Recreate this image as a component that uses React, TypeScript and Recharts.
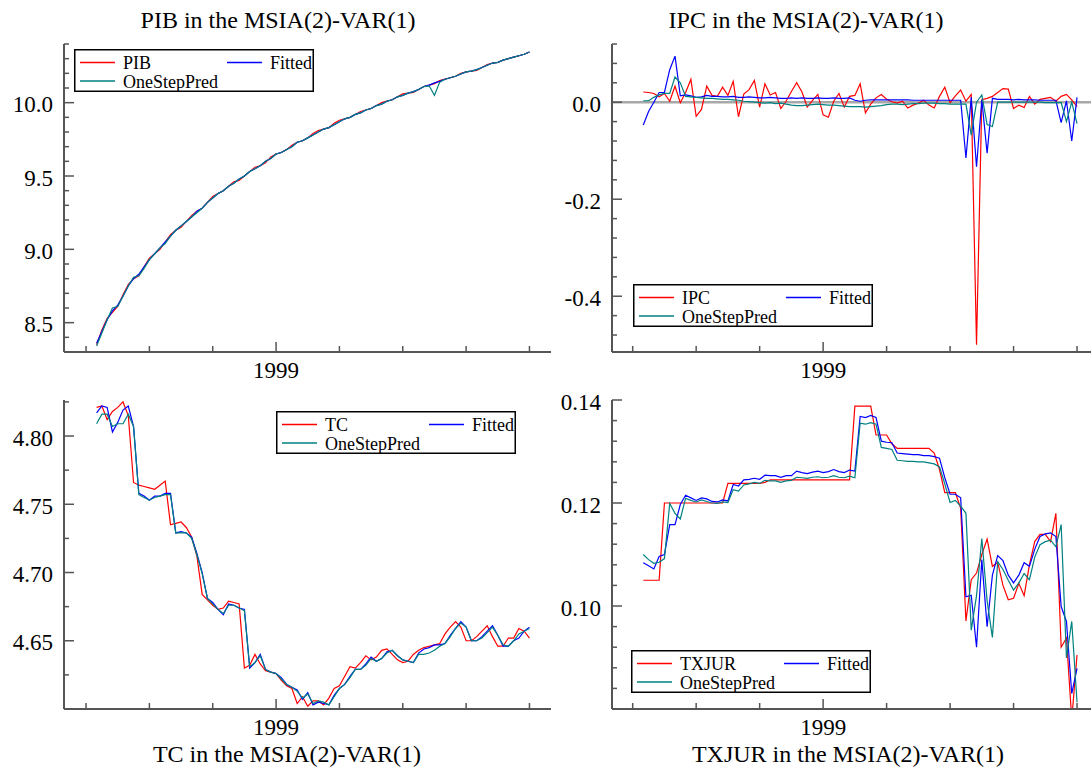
import React from "react";
import { Legend, Line, LineChart, ReferenceLine, XAxis, YAxis } from "recharts";

const FONT = '"Liberation Serif", "Times New Roman", Times, serif';
const RED = "#ff0000";
const BLUE = "#0000ff";
const TEAL = "#008080";
const AXIS = "#555555";

// monthly sample 1996(3) - 2003(1)
const firstYear = 1996;
const firstMonth = 3;
const obsCount = 83;
const dates = Array.from({ length: obsCount }, (_, i) => firstYear + (firstMonth - 1 + i) / 12);

const yearTicks = [1996, 1997, 1998, 1999, 2000, 2001, 2002, 2003];
const labelledYear = 1999;

// PIB
const pibActual = [
  8.35, 8.45, 8.53, 8.57, 8.61, 8.69, 8.76, 8.80, 8.82, 8.88,
  8.94, 8.97, 9.00, 9.05, 9.10, 9.13, 9.15, 9.19, 9.23, 9.26,
  9.28, 9.32, 9.36, 9.38, 9.40, 9.43, 9.46, 9.47, 9.50, 9.53,
  9.56, 9.57, 9.59, 9.63, 9.65, 9.66, 9.68, 9.71, 9.73, 9.74,
  9.76, 9.79, 9.81, 9.82, 9.83, 9.86, 9.88, 9.89, 9.90, 9.92,
  9.94, 9.95, 9.96, 9.98, 10.00, 10.01, 10.02, 10.04, 10.06, 10.065,
  10.07, 10.09, 10.11, 10.12, 10.13, 10.15, 10.16, 10.17, 10.18, 10.20,
  10.21, 10.215, 10.22, 10.24, 10.26, 10.27, 10.275, 10.29, 10.30, 10.31,
  10.32, 10.33, 10.345,
];
const pibFitted = [
  8.36, 8.44, 8.52, 8.58, 8.62, 8.68, 8.75, 8.80, 8.83, 8.88,
  8.93, 8.97, 9.01, 9.05, 9.09, 9.13, 9.16, 9.19, 9.22, 9.26,
  9.28, 9.32, 9.35, 9.38, 9.40, 9.43, 9.45, 9.48, 9.50, 9.53,
  9.55, 9.57, 9.60, 9.62, 9.65, 9.66, 9.68, 9.70, 9.73, 9.74,
  9.76, 9.78, 9.80, 9.82, 9.83, 9.85, 9.87, 9.89, 9.90, 9.92,
  9.93, 9.95, 9.96, 9.98, 9.99, 10.01, 10.02, 10.04, 10.05, 10.065,
  10.075, 10.09, 10.11, 10.12, 10.135, 10.145, 10.16, 10.17, 10.18, 10.195,
  10.21, 10.215, 10.225, 10.24, 10.255, 10.27, 10.275, 10.29, 10.30, 10.31,
  10.32, 10.33, 10.345,
];
const pibPred = [
  8.34, 8.43, 8.52, 8.60, 8.61, 8.68, 8.75, 8.81, 8.82, 8.87,
  8.93, 8.97, 9.01, 9.04, 9.09, 9.13, 9.16, 9.19, 9.22, 9.25,
  9.28, 9.32, 9.35, 9.38, 9.40, 9.43, 9.45, 9.48, 9.50, 9.53,
  9.55, 9.57, 9.60, 9.62, 9.65, 9.66, 9.68, 9.70, 9.73, 9.74,
  9.76, 9.78, 9.80, 9.82, 9.83, 9.85, 9.87, 9.89, 9.90, 9.92,
  9.93, 9.95, 9.96, 9.98, 9.99, 10.01, 10.02, 10.04, 10.05, 10.065,
  10.075, 10.09, 10.11, 10.115, 10.05, 10.14, 10.16, 10.17, 10.18, 10.195,
  10.21, 10.215, 10.225, 10.24, 10.255, 10.27, 10.275, 10.29, 10.30, 10.31,
  10.32, 10.33, 10.345,
];

// IPC
const ipcActual = [
  0.021, 0.020, 0.018, 0.011, 0.018, 0.002, 0.033, -0.001, 0.020, 0.047,
  -0.029, -0.015, 0.033, 0.014, 0.012, 0.031, 0.014, 0.043, -0.030, 0.017,
  0.026, 0.045, -0.010, 0.038, 0.015, 0.020, -0.013, 0.002, 0.022, 0.040,
  0.021, -0.010, 0.004, 0.016, -0.026, -0.031, 0.002, 0.018, -0.010, 0.012,
  0.014, 0.038, -0.022, -0.004, 0.009, 0.016, 0.006, 0.001, -0.002, 0.002,
  -0.012, -0.006, -0.002, 0.004, -0.006, -0.012, 0.012, 0.031, -0.001, 0.013,
  0.025, 0.002, 0.016, -0.500, 0.005, 0.008, 0.012, 0.020, 0.028, 0.027,
  -0.013, -0.006, -0.011, 0.012, -0.004, 0.006, 0.008, 0.010, 0.002, 0.012,
  0.016, 0.005, -0.009,
];
const ipcFitted = [
  -0.047, -0.019, 0.000, 0.020, 0.020, 0.067, 0.095, 0.013, 0.015, 0.013,
  0.010, 0.011, 0.014, 0.012, 0.012, 0.011, 0.011, 0.012, 0.010, 0.010,
  0.011, 0.010, 0.009, 0.009, 0.010, 0.009, 0.008, 0.008, 0.009, 0.008,
  0.009, 0.008, 0.008, 0.009, 0.008, 0.008, 0.009, 0.008, 0.008, 0.009,
  0.004, 0.002, 0.004, 0.005, 0.005, 0.005, 0.005, 0.005, 0.005, 0.005,
  0.005, 0.004, 0.004, 0.004, 0.004, 0.004, 0.004, 0.004, 0.004, 0.004,
  0.004, -0.115, 0.010, -0.133, 0.005, -0.105, 0.008, 0.006, 0.006, 0.006,
  0.005, 0.006, 0.005, 0.005, 0.005, 0.004, 0.004, 0.004, 0.004, -0.042,
  0.003, -0.080, 0.010,
];
const ipcPred = [
  0.003, 0.003, 0.010, 0.015, 0.018, 0.018, 0.052, 0.040, 0.012, 0.011,
  0.010, 0.009, 0.008, 0.008, 0.007, 0.006, 0.006, 0.005, 0.004, 0.002,
  0.001, 0.000, -0.001, -0.002, -0.001, -0.003, -0.002, -0.004, -0.006, -0.007,
  -0.007, -0.006, -0.005, -0.004, -0.005, -0.006, -0.006, -0.007, -0.008, -0.009,
  -0.009, -0.009, -0.010, -0.009, -0.008, -0.007, -0.005, -0.004, -0.004, -0.005,
  -0.004, -0.003, -0.003, -0.002, -0.002, -0.002, -0.003, -0.003, -0.004, -0.004,
  -0.004, -0.004, -0.068, 0.000, 0.015, -0.046, -0.050, 0.000, 0.000, 0.000,
  0.000, 0.000, 0.000, 0.000, 0.000, 0.000, -0.001, -0.001, -0.001, -0.001,
  -0.040, 0.000, -0.044,
];

// TC
const tcActual = [
  4.821, 4.822, 4.812, 4.818, 4.821, 4.825, 4.815, 4.766, 4.764, 4.763,
  4.762, 4.761, 4.764, 4.767, 4.735, 4.736, 4.737, 4.733, 4.726, 4.712,
  4.684, 4.680, 4.676, 4.673, 4.674, 4.679, 4.678, 4.677, 4.630, 4.632,
  4.640, 4.633, 4.628, 4.627, 4.626, 4.621, 4.617, 4.615, 4.604, 4.609,
  4.602, 4.606, 4.606, 4.603, 4.608, 4.615, 4.617, 4.624, 4.631, 4.630,
  4.634, 4.639, 4.636, 4.638, 4.643, 4.644, 4.640, 4.636, 4.634, 4.635,
  4.640, 4.643, 4.645, 4.646, 4.647, 4.648, 4.655, 4.660, 4.664, 4.660,
  4.650, 4.650, 4.653, 4.657, 4.661, 4.653, 4.646, 4.646, 4.652, 4.652,
  4.659, 4.657, 4.652,
];
const tcFitted = [
  4.817, 4.822, 4.821, 4.803, 4.810, 4.819, 4.822, 4.807, 4.758, 4.756,
  4.753, 4.756, 4.756, 4.758, 4.758, 4.729, 4.730, 4.729, 4.726, 4.714,
  4.700, 4.681, 4.678, 4.673, 4.669, 4.677, 4.676, 4.674, 4.673, 4.630,
  4.634, 4.640, 4.629, 4.627, 4.626, 4.623, 4.618, 4.616, 4.614, 4.607,
  4.612, 4.603, 4.605, 4.604, 4.603, 4.610, 4.615, 4.618, 4.624, 4.629,
  4.629, 4.633, 4.638, 4.635, 4.637, 4.642, 4.643, 4.639, 4.636, 4.635,
  4.634, 4.641, 4.644, 4.645, 4.647, 4.647, 4.648, 4.654, 4.659, 4.664,
  4.660, 4.650, 4.650, 4.653, 4.657, 4.661, 4.654, 4.646, 4.646, 4.650,
  4.652, 4.657, 4.660,
];
const tcPred = [
  4.809, 4.816, 4.816, 4.807, 4.809, 4.809, 4.816, 4.807, 4.757, 4.755,
  4.753, 4.755, 4.756, 4.757, 4.757, 4.729, 4.729, 4.729, 4.725, 4.713,
  4.699, 4.681, 4.677, 4.673, 4.670, 4.676, 4.676, 4.674, 4.672, 4.631,
  4.634, 4.639, 4.629, 4.627, 4.626, 4.622, 4.618, 4.616, 4.613, 4.608,
  4.611, 4.604, 4.606, 4.605, 4.603, 4.609, 4.615, 4.618, 4.623, 4.629,
  4.629, 4.632, 4.637, 4.635, 4.637, 4.641, 4.643, 4.639, 4.636, 4.635,
  4.634, 4.640, 4.640, 4.641, 4.643, 4.646, 4.648, 4.653, 4.659, 4.663,
  4.660, 4.650, 4.650, 4.652, 4.656, 4.660, 4.654, 4.647, 4.646, 4.650,
  4.655, 4.657, 4.659,
];

// TXJUR
const txActual = [
  0.105, 0.105, 0.105, 0.105, 0.120, 0.120, 0.120, 0.120, 0.120, 0.120,
  0.120, 0.120, 0.120, 0.120, 0.120, 0.120, 0.1238, 0.1238, 0.1238, 0.1238,
  0.1238, 0.1238, 0.1238, 0.1240, 0.1245, 0.1245, 0.1245, 0.1245, 0.1245, 0.1245,
  0.1245, 0.1245, 0.1245, 0.1245, 0.1245, 0.1245, 0.1245, 0.1245, 0.1245, 0.1245,
  0.1388, 0.1388, 0.1388, 0.1388, 0.1332, 0.1332, 0.1332, 0.1315, 0.1306, 0.1306,
  0.1306, 0.1306, 0.1306, 0.1306, 0.1306, 0.1297, 0.1265, 0.1220, 0.1220, 0.1220,
  0.1190, 0.0971, 0.1051, 0.1064, 0.1100, 0.1130, 0.1077, 0.1085, 0.1040, 0.1012,
  0.1015, 0.1044, 0.1020, 0.1080, 0.1125, 0.1139, 0.1139, 0.1125, 0.1180, 0.0920,
  0.0938, 0.0780, 0.0905,
];
const txFitted = [
  0.1084, 0.1078, 0.1072, 0.1096, 0.1100, 0.1158, 0.1158, 0.1197, 0.1215, 0.1210,
  0.1205, 0.1210, 0.1208, 0.1203, 0.1202, 0.1206, 0.1204, 0.1236, 0.1233, 0.1245,
  0.1246, 0.1248, 0.1246, 0.1254, 0.1253, 0.1253, 0.1250, 0.1253, 0.1253, 0.1262,
  0.1259, 0.1257, 0.1260, 0.1262, 0.1259, 0.1261, 0.1265, 0.1261, 0.1259, 0.1264,
  0.1262, 0.1368, 0.1366, 0.1370, 0.1366, 0.1320, 0.1318, 0.1317, 0.1297, 0.1296,
  0.1295, 0.1294, 0.1294, 0.1292, 0.1292, 0.1290, 0.1287, 0.1249, 0.1217, 0.1217,
  0.1210, 0.1018, 0.1021, 0.0920, 0.1090, 0.0960, 0.1060, 0.1098, 0.1088, 0.1060,
  0.1045, 0.1060, 0.1084, 0.1077, 0.1110, 0.1135, 0.1140, 0.1142, 0.1135, 0.0999,
  0.0970, 0.0830, 0.0879,
];
const txPred = [
  0.1100, 0.1090, 0.1083, 0.1085, 0.1092, 0.1199, 0.1180, 0.1169, 0.1209, 0.1205,
  0.1202, 0.1206, 0.1203, 0.1200, 0.1199, 0.1202, 0.1201, 0.1226, 0.1223, 0.1235,
  0.1237, 0.1240, 0.1238, 0.1244, 0.1243, 0.1243, 0.1240, 0.1243, 0.1244, 0.1250,
  0.1249, 0.1248, 0.1250, 0.1251, 0.1249, 0.1250, 0.1253, 0.1250, 0.1249, 0.1252,
  0.1249, 0.1355, 0.1353, 0.1356, 0.1353, 0.1308, 0.1306, 0.1304, 0.1283, 0.1282,
  0.1281, 0.1281, 0.1280, 0.1280, 0.1278, 0.1276, 0.1270, 0.1237, 0.1201, 0.1205,
  0.1194, 0.1180, 0.0953, 0.1020, 0.1131, 0.1010, 0.0939, 0.1086, 0.1071, 0.1050,
  0.1031, 0.1045, 0.1063, 0.1051, 0.1095, 0.1119, 0.1125, 0.1128, 0.1115, 0.1158,
  0.0899, 0.0970, 0.0813,
];

// y axis ticks and labels
const pibTicks = [8.3, 8.4, 8.5, 8.6, 8.7, 8.8, 8.9, 9.0, 9.1, 9.2, 9.3, 9.4, 9.5, 9.6, 9.7, 9.8, 9.9, 10.0, 10.1, 10.2, 10.3, 10.4];
const pibLabels = [8.5, 9.0, 9.5, 10.0];
const ipcTicks = [0.12, 0.08, 0.04, 0, -0.04, -0.08, -0.12, -0.16, -0.2, -0.24, -0.28, -0.32, -0.36, -0.4, -0.44, -0.48];
const ipcLabels = [0, -0.2, -0.4];
const tcTicks = [4.6, 4.625, 4.65, 4.675, 4.7, 4.725, 4.75, 4.775, 4.8, 4.825];
const tcLabels = [4.65, 4.7, 4.75, 4.8];
const txTicks = [0.08, 0.084, 0.088, 0.092, 0.096, 0.1, 0.104, 0.108, 0.112, 0.116, 0.12, 0.124, 0.128, 0.132, 0.136, 0.14];
const txLabels = [0.1, 0.12, 0.14];

const legendOrder = ["actual", "fitted", "pred"];

const rowsFor = (actual: number[], fitted: number[], pred: number[]) =>
  dates.map((date, i) => ({ date, actual: actual[i], fitted: fitted[i], pred: pred[i] }));

const labelStyle: React.CSSProperties = { fontFamily: FONT, fontSize: 23 };

const YTick = (props: any) => {
  const { x, y, payload, labels, digits } = props;
  const major = labels.some((v: number) => Math.abs(v - payload.value) < 1e-9);
  return (
    <g>
      <line x1={x} y1={y} x2={x + (major ? 10 : 5)} y2={y} stroke={AXIS} strokeWidth={1.5} />
      {major && (
        <text x={x - 11} y={y} dy="0.42em" textAnchor="end" style={labelStyle} fontFamily={FONT} fontSize={23} fill="#000">
          {payload.value.toFixed(digits)}
        </text>
      )}
    </g>
  );
};

const XTick = (props: any) => {
  const { x, y, payload } = props;
  const major = payload.value === labelledYear;
  return (
    <g>
      <line x1={x} y1={y} x2={x} y2={y - (major ? 10 : 6)} stroke={AXIS} strokeWidth={1.5} />
      {major && (
        <text x={x} y={y + 26} textAnchor="middle" style={labelStyle} fontFamily={FONT} fontSize={23} fill="#000">
          {payload.value}
        </text>
      )}
    </g>
  );
};

const LegendBox = ({ payload }: any) => {
  const items = legendOrder
    .map((k) => (payload || []).find((p: any) => p.dataKey === k))
    .filter(Boolean);
  return (
    <svg width={240} height={43} style={{ display: "block" }}>
      <rect x={0.75} y={0.75} width={238.5} height={41.5} fill="#fff" stroke="#000" strokeWidth={1.5} />
      {items.map((p: any, i: number) => {
        const lx = i === 1 ? 153 : 6;
        const ly = i === 2 ? 32 : 13.5;
        return (
          <g key={p.dataKey}>
            <line x1={lx} x2={lx + 35} y1={ly} y2={ly} stroke={p.color} strokeWidth={1.5} />
            <text x={lx + 43} y={ly + 6.5} style={{ fontFamily: FONT, fontSize: 18 }} fill="#000">
              {p.value}
            </text>
          </g>
        );
      })}
    </svg>
  );
};

interface PanelProps {
  left: number;
  top: number;
  width: number;
  marginTop: number;
  marginBottom: number;
  marginRight: number;
  name: string;
  actual: number[];
  fitted: number[];
  pred: number[];
  xDomain: [number, number];
  yDomain: [number, number];
  yTicks: number[];
  yLabels: number[];
  digits: number;
  legendX: number;
  legendY: number;
  zeroLine?: boolean;
}

const Panel: React.FC<PanelProps> = (p) => {
  const data = rowsFor(p.actual, p.fitted, p.pred);
  return (
    <div style={{ position: "absolute", left: p.left, top: p.top }}>
      <LineChart
        width={p.width}
        height={385}
        data={data}
        margin={{ top: p.marginTop, right: p.marginRight, bottom: p.marginBottom, left: 0 }}
        style={{ fontFamily: FONT }}
      >
        <XAxis
          type="number"
          dataKey="date"
          domain={p.xDomain}
          ticks={yearTicks}
          interval={0}
          allowDataOverflow
          height={30}
          tickSize={0}
          tickMargin={0}
          tickLine={false}
          axisLine={{ stroke: AXIS, strokeWidth: 2 }}
          tick={(t: any) => <XTick {...t} />}
        />
        <YAxis
          type="number"
          domain={p.yDomain}
          ticks={p.yTicks}
          interval={0}
          allowDataOverflow
          width={64}
          tickSize={0}
          tickMargin={0}
          tickLine={false}
          axisLine={{ stroke: AXIS, strokeWidth: 2 }}
          tick={(t: any) => <YTick {...t} labels={p.yLabels} digits={p.digits} />}
        />
        {p.zeroLine && <ReferenceLine y={0} stroke="#a8a8a8" strokeWidth={2.5} />}
        <Line type="linear" dataKey="actual" name={p.name} stroke={RED} strokeWidth={1.2} dot={false} isAnimationActive={false} />
        <Line type="linear" dataKey="fitted" name="Fitted" stroke={BLUE} strokeWidth={1.2} dot={false} isAnimationActive={false} />
        <Line type="linear" dataKey="pred" name="OneStepPred" stroke={TEAL} strokeWidth={1.2} dot={false} isAnimationActive={false} />
        <Legend
          layout="horizontal"
          verticalAlign="middle"
          align="center"
          content={(lp: any) => <LegendBox {...lp} />}
          wrapperStyle={{ left: p.legendX, top: p.legendY, width: 240, height: 43 }}
        />
      </LineChart>
    </div>
  );
};

const titles = [
  { text: "PIB in the MSIA(2)-VAR(1)", cx: 278, base: 28 },
  { text: "IPC in the MSIA(2)-VAR(1)", cx: 806, base: 28 },
  { text: "TC in the MSIA(2)-VAR(1)", cx: 287, base: 762 },
  { text: "TXJUR in the MSIA(2)-VAR(1)", cx: 848, base: 762 },
];

const leftX: [number, number] = [1995.652, 2003.34];
const rightX: [number, number] = [1995.674, 2003.22];

export default function App() {
  return (
    <div
      style={{
        position: "absolute",
        left: 0,
        top: 0,
        width: 1092,
        height: 771,
        background: "#fff",
        overflow: "hidden",
        fontFamily: FONT,
      }}
    >
      <Panel
        left={0} top={0} width={551} marginTop={44} marginBottom={3} marginRight={0}
        name="PIB" actual={pibActual} fitted={pibFitted} pred={pibPred}
        xDomain={leftX} yDomain={[8.3, 10.4]} yTicks={pibTicks} yLabels={pibLabels} digits={1}
        legendX={74} legendY={49}
      />
      <Panel
        left={548} top={0} width={544} marginTop={44} marginBottom={3} marginRight={1}
        name="IPC" actual={ipcActual} fitted={ipcFitted} pred={ipcPred}
        xDomain={rightX} yDomain={[-0.515, 0.12]} yTicks={ipcTicks} yLabels={ipcLabels} digits={1}
        legendX={85} legendY={284} zeroLine
      />
      <Panel
        left={0} top={360} width={551} marginTop={40} marginBottom={6} marginRight={0}
        name="TC" actual={tcActual} fitted={tcFitted} pred={tcPred}
        xDomain={leftX} yDomain={[4.6, 4.8264]} yTicks={tcTicks} yLabels={tcLabels} digits={2}
        legendX={276} legendY={51}
      />
      <Panel
        left={548} top={360} width={544} marginTop={40} marginBottom={6} marginRight={1}
        name="TXJUR" actual={txActual} fitted={txFitted} pred={txPred}
        xDomain={rightX} yDomain={[0.08, 0.14]} yTicks={txTicks} yLabels={txLabels} digits={2}
        legendX={83} legendY={290}
      />
      {titles.map((t) => (
        <div
          key={t.text}
          style={{
            position: "absolute",
            left: t.cx - 200,
            width: 400,
            top: t.base - 20,
            textAlign: "center",
            fontFamily: FONT,
            fontSize: 24,
            lineHeight: "24px",
            whiteSpace: "nowrap",
            color: "#000",
          }}
        >
          {t.text}
        </div>
      ))}
    </div>
  );
}
